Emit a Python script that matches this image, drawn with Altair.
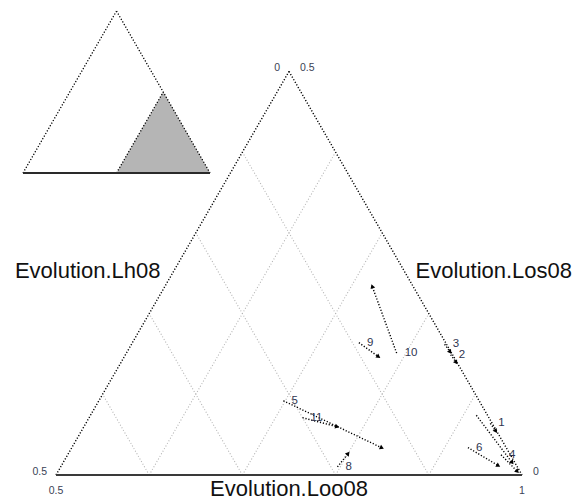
import math
import altair as alt
import pandas as pd

# Compositional shares (Lh08, Los08, Loo08) of each item: arrow start -> arrow end
item_labels = ["1", "2", "3", "4", "5", "6", "", "8", "9", "10", "11"]
lh_from = [0.002, 0.002, 0.002, 0.010, 0.210, 0.041, 0.012, 0.193, 0.093, 0.059, 0.200]
los_from = [0.064, 0.149, 0.162, 0.025, 0.092, 0.034, 0.074, 0.010, 0.164, 0.151, 0.071]
loo_from = [0.934, 0.849, 0.836, 0.965, 0.698, 0.925, 0.914, 0.797, 0.743, 0.790, 0.729]
lh_to = [0.001, 0.001, 0.001, 0.003, 0.134, 0.020, 0.003, 0.174, 0.081, 0.044, 0.169]
los_to = [0.055, 0.140, 0.153, 0.005, 0.034, 0.012, 0.016, 0.026, 0.147, 0.233, 0.060]
loo_to = [0.944, 0.859, 0.846, 0.992, 0.832, 0.968, 0.981, 0.800, 0.772, 0.723, 0.771]

# Zoomed region: Loo08 from 0.5 to 1 (corners as Lh08, Los08, Loo08)
zoom_corners = {"bl": (0.5, 0.0, 0.5), "top": (0.0, 0.5, 0.5), "br": (0.0, 0.0, 1.0)}
full_corners = {"bl": (1.0, 0.0, 0.0), "top": (0.0, 1.0, 0.0), "br": (0.0, 0.0, 1.0)}
grid_loo = [0.6, 0.7, 0.8, 0.9]
grid_lh = [0.1, 0.2, 0.3, 0.4]

R3 = math.sqrt(3) / 2
FONT = "Liberation Sans"

# Ternary -> cartesian (Lh08 bottom-left, Loo08 bottom-right, Los08 top)
def proj(prefix_in, prefix_out):
    return {
        f"{prefix_out}x": f"datum.{prefix_in}loo + datum.{prefix_in}los / 2",
        f"{prefix_out}y": f"datum.{prefix_in}los * {R3}",
    }


def seg_frame(pairs):
    rows = []
    for a, b in pairs:
        rows.append({"a_lh": a[0], "a_los": a[1], "a_loo": a[2],
                     "b_lh": b[0], "b_los": b[1], "b_loo": b[2]})
    return pd.DataFrame(rows)


# main plot scales (equal pixels per unit on both axes)
MX = alt.Scale(domain=[0.43991, 1.06116], nice=False, zero=False)
MY = alt.Scale(domain=[-0.02897, 0.50966], nice=False, zero=False)
# overview scales
IX = alt.Scale(domain=[-0.12299, 2.97326], nice=False, zero=False)
IY = alt.Scale(domain=[-1.7594, 0.92513], nice=False, zero=False)


def segments(df, sx, sy, **mark):
    return alt.Chart(df).transform_calculate(
        **proj("a_", "p"), **proj("b_", "q")
    ).mark_rule(**mark).encode(
        x=alt.X("px:Q", scale=sx, axis=None),
        y=alt.Y("py:Q", scale=sy, axis=None),
        x2="qx:Q",
        y2="qy:Q",
    )


zc = zoom_corners
fc = full_corners

# ---------- main (zoomed) triangle ----------
grid_pairs = [((1 - g, 0.0, g), (0.0, 1 - g, g)) for g in grid_loo] + \
             [((g, 0.0, 1 - g), (g, 0.5 - g, 0.5)) for g in grid_lh]
grid = segments(seg_frame(grid_pairs), MX, MY,
                color="#b4b4b4", strokeWidth=1.1, strokeDash=[1, 2])

sides = segments(seg_frame([(zc["bl"], zc["top"]), (zc["top"], zc["br"])]), MX, MY,
                 color="#000000", strokeWidth=1.4, strokeDash=[1.2, 1.8])
base = segments(seg_frame([(zc["bl"], zc["br"])]), MX, MY,
                color="#3a3a3a", strokeWidth=2.2)

items = pd.DataFrame({
    "label": item_labels,
    "a_lh": lh_from, "a_los": los_from, "a_loo": loo_from,
    "b_lh": lh_to, "b_los": los_to, "b_loo": loo_to,
})
arrows = segments(items, MX, MY, color="#000000", strokeWidth=1.4, strokeDash=[1.2, 1.8])
heads = alt.Chart(items).transform_calculate(
    **proj("a_", "p"), **proj("b_", "q")
).transform_calculate(
    ang="(atan2(datum.qx - datum.px, datum.qy - datum.py) * 180 / PI + 360) % 360"
).mark_point(shape="triangle", filled=True, size=24, color="#000000", opacity=1).encode(
    x=alt.X("qx:Q", scale=MX, axis=None),
    y=alt.Y("qy:Q", scale=MY, axis=None),
    angle=alt.Angle("ang:Q", scale=None),
)
item_text = alt.Chart(items).transform_calculate(**proj("a_", "p")).mark_text(
    align="left", baseline="middle", dx=8, dy=0, font=FONT, fontSize=11.5, color="#2f3550"
).encode(
    x=alt.X("px:Q", scale=MX, axis=None),
    y=alt.Y("py:Q", scale=MY, axis=None),
    text="label:N",
)


def corner_frame(keys, axis_idx):
    rows = []
    for k in keys:
        c = zc[k]
        rows.append({"lh": c[0], "los": c[1], "loo": c[2],
                     "txt": f"{c[axis_idx]:g}"})
    return pd.DataFrame(rows)


def corner_text(df, **mark):
    return alt.Chart(df).transform_calculate(**proj("", "p")).mark_text(
        font=FONT, fontSize=10.5, color="#3a3f55", **mark
    ).encode(
        x=alt.X("px:Q", scale=MX, axis=None),
        y=alt.Y("py:Q", scale=MY, axis=None),
        text="txt:N",
    )


tick_lh = corner_text(corner_frame(["top", "bl"], 0), align="right", baseline="middle", dx=-9, dy=-3)
tick_los = corner_text(corner_frame(["top", "br"], 1), align="left", baseline="middle", dx=11, dy=-3)
tick_loo = corner_text(corner_frame(["bl", "br"], 2), align="center", baseline="middle", dx=0, dy=16)


def mid(a, b):
    return tuple((u + v) / 2 for u, v in zip(a, b))


titles = pd.DataFrame([
    dict(zip(["lh", "los", "loo"], mid(zc["bl"], zc["top"])), name="Evolution.Lh08", side="l"),
    dict(zip(["lh", "los", "loo"], mid(zc["top"], zc["br"])), name="Evolution.Los08", side="r"),
    dict(zip(["lh", "los", "loo"], mid(zc["bl"], zc["br"])), name="Evolution.Loo08", side="b"),
])


def title_text(side, **mark):
    return alt.Chart(titles).transform_filter(f"datum.side == '{side}'").transform_calculate(
        **proj("", "p")
    ).mark_text(font=FONT, fontSize=22, color="#111111", baseline="middle", **mark).encode(
        x=alt.X("px:Q", scale=MX, axis=None),
        y=alt.Y("py:Q", scale=MY, axis=None),
        text="name:N",
    )


title_l = title_text("l", align="right", dx=-12, dy=-2)
title_r = title_text("r", align="left", dx=10, dy=-2)
title_b = title_text("b", align="center", dy=14)

main = alt.layer(grid, arrows, heads, sides, base, item_text,
                 tick_lh, tick_los, tick_loo, title_l, title_r, title_b)

# ---------- overview triangle with the zoomed region shaded ----------
region = pd.DataFrame([
    {"lh": c[0], "los": c[1], "loo": c[2]} for c in (zc["bl"], zc["top"], zc["br"])
])
shade = alt.Chart(region).transform_calculate(**proj("", "p")).mark_area(
    color="#b5b5b5", opacity=1, interpolate="linear"
).encode(
    x=alt.X("px:Q", scale=IX, axis=None),
    y=alt.Y("py:Q", scale=IY, axis=None),
    y2=alt.datum(0),
)
inset_sides = segments(seg_frame([(fc["bl"], fc["top"]), (fc["top"], fc["br"]),
                                  (zc["bl"], zc["top"])]), IX, IY,
                       color="#000000", strokeWidth=1.3, strokeDash=[1.2, 1.8])
inset_base = segments(seg_frame([(fc["bl"], fc["br"])]), IX, IY,
                      color="#2a2a2a", strokeWidth=2.0)
inset = alt.layer(shade, inset_sides, inset_base)

chart = alt.layer(main, inset).resolve_scale(
    x="independent", y="independent"
).properties(
    width=579, height=502, padding=0, autosize="none", background="white"
).configure_view(stroke=None)

chart.save("out.html", embed_options={"renderer": "svg", "actions": False})
